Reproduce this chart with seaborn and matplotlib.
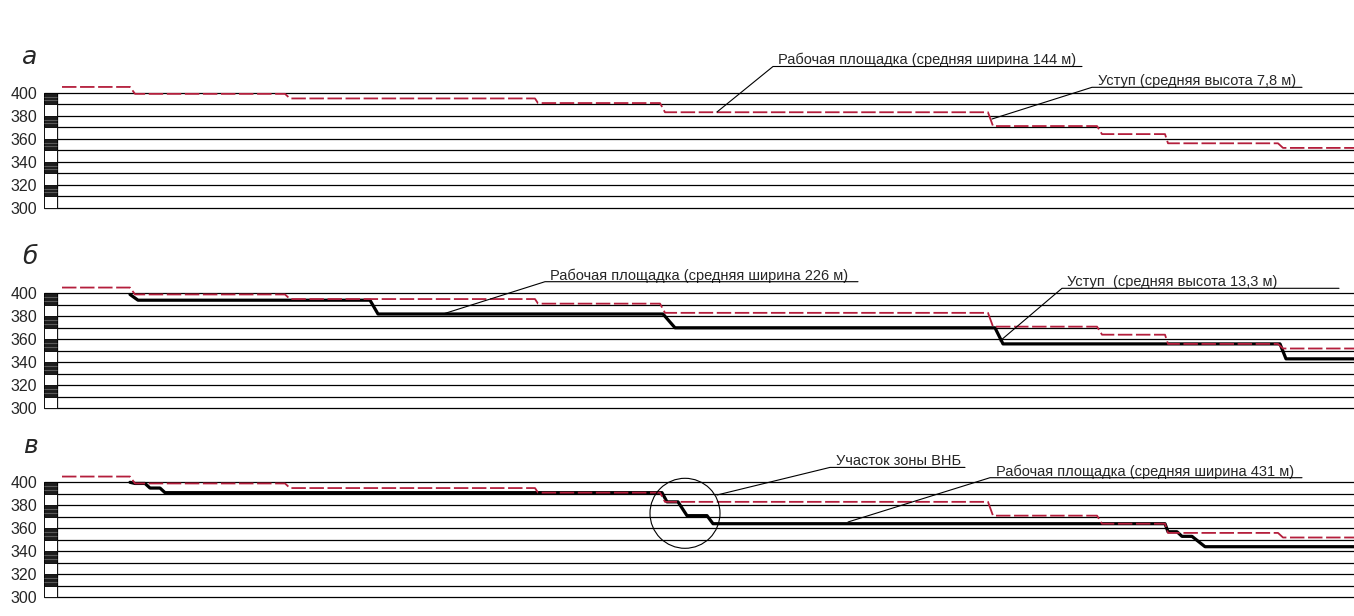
import matplotlib
matplotlib.use("Agg")
import matplotlib.pyplot as plt
from matplotlib.patches import Ellipse
import seaborn as sns

sns.set_style("white")
plt.rcParams["font.family"] = ["Liberation Sans", "DejaVu Sans"]

# --- данные ---
levels = list(range(300, 401, 10))
tick_vals = [300, 320, 340, 360, 380, 400]
dark_cells = [390, 370, 350, 330, 310]
light_cells = [380, 360, 340, 320, 300]

# проектный профиль (красный пунктир)
red_x = [5, 73, 78, 228, 233, 478, 481, 603, 608, 931, 936, 1040, 1045, 1108, 1111, 1221, 1226, 1297]
red_y = [405, 405, 399, 399, 395, 395, 391, 391, 383, 383, 371, 371, 364, 364, 356, 356, 352, 352]

# фактический профиль, вариант б
blk_b_x = [73, 81, 313, 321, 606, 618, 938, 946, 1223, 1229, 1297]
blk_b_y = [399, 394, 394, 382, 382, 370, 370, 356, 356, 343, 343]

# фактический профиль, вариант в
blk_c_x = [73, 78, 88, 93, 103, 108, 605, 610, 621, 630, 650, 656, 1108, 1111, 1120, 1125, 1135, 1148, 1297]
blk_c_y = [400, 399, 399, 395, 395, 391, 391, 383, 383, 371, 371, 364, 364, 357, 357, 353, 353, 344, 344]

panel_labels = ["а", "б", "в"]
panel_top = [92.7, 293.3, 482.3]   # пиксель отметки 400

# подписи: (текст, x текста, базовая линия, x начала подчёркивания, x конца, y подчёркивания, точка выноски)
notes = [
    [("Рабочая площадка (средняя ширина 144 м)", 778, 64.5, 773, 1082, 66.5, (717, 112)),
     ("Уступ (средняя высота 7,8 м)", 1098, 85.5, 1092, 1302, 87.3, (992, 119))],
    [("Рабочая площадка (средняя ширина 226 м)", 550, 280, 545, 858, 281.7, (443, 314)),
     ("Уступ  (средняя высота 13,3 м)", 1067, 286.5, 1062, 1339, 288.3, (1000, 341))],
    [("Участок зоны ВНБ", 836, 465.5, 830, 965, 467.4, (717, 495)),
     ("Рабочая площадка (средняя ширина 431 м)", 996, 476, 990, 1302, 477.7, (848, 522))],
]

W, H = 1354, 616
fig = plt.figure(figsize=(13.54, 6.16), dpi=100)

red = "#b41e3c"

for i in range(3):
    y400 = panel_top[i]
    ax = fig.add_axes([44 / W, 1 - (y400 + 117.3) / H, 1310 / W, 128.8 / H])
    ax.set_xlim(-13, 1297)
    ax.set_ylim(298, 410)
    for s in ax.spines.values():
        s.set_visible(False)

    def px(x, y, y400=y400):
        return x - 57, 400 - (y - y400) / 1.15

    # сетка
    ax.hlines(levels, -13, 1297, color="black", lw=0.9, zorder=1)
    ax.vlines([0, -13], 300, 400, color="black", lw=0.9, zorder=1)

    # шкала
    ax.bar(-6.5, 10, bottom=dark_cells, width=13, color="#1c1c1c", edgecolor="black", lw=0.6, zorder=2)
    ax.bar(-6.5, 10, bottom=light_cells, width=13, color="white", edgecolor="black", lw=0.6, zorder=2)
    ax.hlines([c + 3.5 for c in dark_cells] + [c + 6.5 for c in dark_cells], -13, 0,
              color="#5a5a5a", lw=0.8, zorder=3)

    if i == 1:
        sns.lineplot(x=blk_b_x, y=blk_b_y, sort=False, estimator=None, ax=ax,
                     color="black", linewidth=2.3, zorder=4)
    if i == 2:
        sns.lineplot(x=blk_c_x, y=blk_c_y, sort=False, estimator=None, ax=ax,
                     color="black", linewidth=2.3, zorder=4)
    sns.lineplot(x=red_x, y=red_y, sort=False, estimator=None, ax=ax,
                 color=red, linewidth=1.3, linestyle=(0, (8, 2)), zorder=5)

    ax.set_yticks(tick_vals)
    ax.set_yticklabels([str(v) for v in tick_vals], fontsize=11.5)
    ax.set_xticks([])
    ax.tick_params(axis="y", length=0, pad=5)
    ax.set_xlabel("")
    ax.set_ylabel("")

    # буква панели
    lx, ly = px(30, y400 - 36)
    ax.text(lx, ly, panel_labels[i], fontsize=18, style="italic",
            family="DejaVu Sans", ha="center", va="center", clip_on=False)

    for txt, tx, tb, ux0, ux1, uy, (ex, ey) in notes[i]:
        x0, y0 = px(tx, tb)
        ax.text(x0, y0, txt, fontsize=10.5, ha="left", va="baseline", clip_on=False)
        a0, ay = px(ux0, uy)
        a1, _ = px(ux1, uy)
        e0, e1 = px(ex, ey)
        ax.plot([a1, a0, e0], [ay, ay, e1], color="black", lw=0.8, clip_on=False, zorder=6)

    if i == 2:
        cx, cy = px(685, 513.3)
        ax.add_patch(Ellipse((cx, cy), 70, 70 / 1.15, fill=False, edgecolor="black",
                             lw=0.8, clip_on=False, zorder=6))

fig.savefig("out.png", dpi=100)
